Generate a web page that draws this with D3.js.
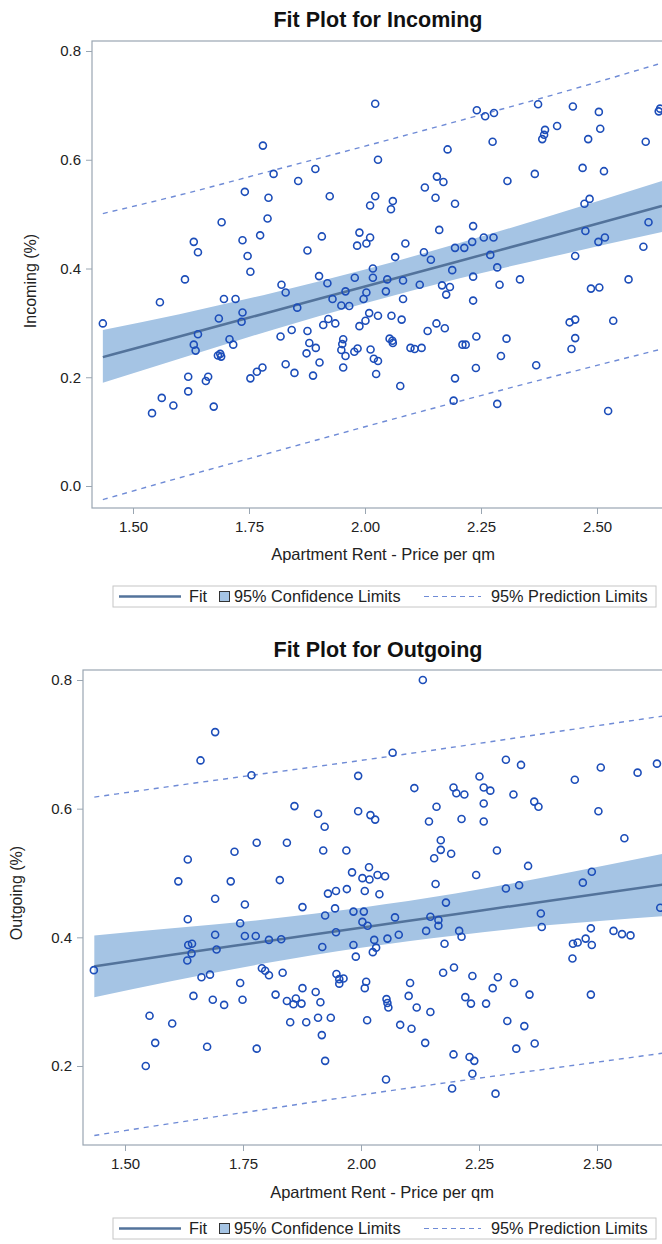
<!DOCTYPE html>
<html>
<head>
<meta charset="utf-8">
<script src="https://cdn.jsdelivr.net/npm/d3@7"></script>
<style>
  body { margin: 0; background: #fff; }
  svg { display: block; font-family: "Liberation Sans", Arial, sans-serif; }
</style>
</head>
<body>
<div id="chart"></div>
<script>
const incomingPts = [
  [2.022,0.703],[1.780,0.626],[2.028,0.600],[1.803,0.574],[1.856,0.561],[1.893,0.583],[1.741,0.541],[1.792,0.530],
  [1.924,0.533],[2.022,0.533],[2.011,0.516],[1.790,0.492],[1.691,0.485],[1.631,0.449],[1.640,0.430],[1.736,0.452],
  [1.774,0.461],[1.747,0.423],[1.753,0.394],[1.876,0.433],[1.907,0.459],[1.988,0.466],[2.011,0.457],[1.983,0.442],
  [2.003,0.446],[2.017,0.400],[2.017,0.383],[1.978,0.383],[1.901,0.386],[1.919,0.373],[1.958,0.358],[2.003,0.356],
  [1.997,0.344],[1.930,0.344],[1.820,0.370],[1.829,0.356],[1.612,0.380],[1.696,0.344],[1.721,0.344],[1.558,0.338],
  [1.435,0.299],[1.685,0.308],[1.736,0.319],[1.734,0.302],[1.640,0.279],[1.631,0.260],[1.635,0.249],[1.683,0.240],
  [1.688,0.243],[1.690,0.238],[1.708,0.270],[1.716,0.260],[1.619,0.201],[1.662,0.201],[1.657,0.193],[1.619,0.174],
  [1.562,0.162],[1.587,0.148],[1.541,0.134],[1.674,0.146],[1.753,0.198],[1.767,0.210],[1.779,0.218],[1.829,0.224],
  [1.848,0.208],[1.888,0.203],[1.902,0.227],[1.874,0.244],[1.880,0.263],[1.894,0.254],[1.818,0.275],[1.842,0.287],
  [1.876,0.285],[1.854,0.328],[1.910,0.296],[1.921,0.307],[1.936,0.299],[1.949,0.332],[1.966,0.331],[2.009,0.318],
  [2.001,0.304],[1.988,0.294],[2.028,0.313],[1.953,0.270],[1.951,0.261],[1.949,0.250],[1.958,0.239],[1.977,0.247],
  [1.984,0.253],[1.953,0.218],[2.012,0.251],[2.019,0.234],[2.028,0.230],[2.024,0.206],
  [2.241,0.691],[2.259,0.680],[2.278,0.686],[2.373,0.702],[2.448,0.698],[2.504,0.688],[2.633,0.689],[2.636,0.694],
  [2.388,0.655],[2.386,0.646],[2.382,0.638],[2.414,0.662],[2.507,0.657],[2.481,0.638],[2.275,0.633],[2.605,0.633],
  [2.178,0.619],[2.307,0.561],[2.366,0.574],[2.469,0.585],[2.515,0.579],[2.155,0.569],[2.169,0.559],[2.129,0.549],
  [2.152,0.530],[2.194,0.519],[2.060,0.524],[2.056,0.509],[2.473,0.519],[2.484,0.528],[2.475,0.469],[2.611,0.485],
  [2.160,0.471],[2.233,0.478],[2.087,0.446],[2.065,0.421],[2.127,0.430],[2.142,0.416],[2.194,0.438],[2.214,0.438],
  [2.231,0.449],[2.256,0.457],[2.277,0.457],[2.270,0.425],[2.503,0.449],[2.517,0.457],[2.600,0.440],[2.453,0.423],
  [2.188,0.397],[2.285,0.402],[2.048,0.380],[2.082,0.378],[2.118,0.370],[2.166,0.369],[2.183,0.366],[2.233,0.385],
  [2.290,0.370],[2.334,0.380],[2.487,0.363],[2.505,0.365],[2.568,0.380],[2.045,0.358],[2.082,0.344],[2.175,0.352],
  [2.233,0.341],
  [2.057,0.313],[2.079,0.306],[2.053,0.271],[2.059,0.267],[2.060,0.263],[2.098,0.254],[2.107,0.252],[2.122,0.254],
  [2.135,0.285],[2.154,0.299],[2.172,0.290],[2.210,0.260],[2.217,0.260],[2.240,0.275],[2.305,0.271],[2.293,0.239],
  [2.239,0.217],[2.369,0.222],[2.194,0.198],[2.191,0.157],[2.285,0.151],[2.076,0.184],[2.441,0.301],[2.453,0.306],
  [2.453,0.272],[2.445,0.252],[2.535,0.304],[2.524,0.138]
];

const outgoingPts = [
  [1.691,0.719],[1.660,0.675],[1.768,0.652],[1.994,0.651],[1.859,0.604],[1.909,0.592],[1.923,0.572],[1.994,0.596],
  [2.020,0.590],[2.030,0.583],[1.779,0.547],[1.843,0.547],[1.732,0.533],[1.633,0.521],[1.920,0.535],[1.969,0.535],
  [1.613,0.487],[1.724,0.487],[1.828,0.489],[1.981,0.501],[2.017,0.509],[2.003,0.492],[2.018,0.490],[2.035,0.497],
  [1.930,0.468],[1.947,0.472],[1.970,0.475],[2.008,0.472],[2.039,0.467],[1.691,0.460],[1.754,0.451],[1.876,0.447],
  [1.945,0.445],[1.924,0.434],[1.984,0.440],[2.006,0.440],[1.633,0.428],[1.744,0.422],[2.003,0.424],[2.014,0.418],
  [1.947,0.408],
  [1.691,0.404],[1.754,0.402],[1.777,0.402],[1.805,0.396],[1.831,0.397],[1.634,0.388],[1.642,0.390],[1.641,0.375],
  [1.632,0.364],[1.694,0.381],[1.918,0.385],[1.984,0.388],[1.989,0.370],[2.028,0.396],[2.032,0.384],[2.025,0.377],
  [1.434,0.349],[1.662,0.338],[1.680,0.342],[1.744,0.329],[1.790,0.352],[1.797,0.348],[1.805,0.341],[1.834,0.345],
  [1.948,0.343],[1.954,0.335],[1.963,0.336],[1.954,0.328],[2.011,0.331],[2.008,0.321],[1.645,0.309],[1.686,0.303],
  [1.710,0.295],[1.749,0.303],[1.819,0.311],[1.843,0.301],[1.857,0.296],[1.862,0.305],[1.874,0.297],[1.876,0.321],
  [1.904,0.315],[1.914,0.299],[1.552,0.278],[1.600,0.266],[1.564,0.236],[1.544,0.200],[1.674,0.230],[1.779,0.227],
  [1.850,0.268],[1.884,0.268],[1.909,0.275],[1.936,0.275],[1.917,0.248],[1.924,0.208],[2.013,0.271],
  [2.131,0.800],[2.067,0.687],[2.307,0.676],[2.339,0.668],[2.508,0.664],[2.586,0.656],[2.627,0.670],[2.453,0.645],
  [2.251,0.650],[2.113,0.632],[2.196,0.633],[2.202,0.624],[2.219,0.622],[2.260,0.633],[2.274,0.628],[2.260,0.608],
  [2.323,0.622],[2.367,0.611],[2.376,0.603],[2.503,0.596],[2.160,0.603],[2.144,0.580],[2.213,0.584],[2.260,0.580],
  [2.558,0.554],[2.169,0.551],[2.169,0.536],[2.155,0.523],[2.191,0.530],[2.288,0.535],[2.354,0.511],[2.051,0.495],
  [2.158,0.483],[2.244,0.497],[2.307,0.476],[2.335,0.481],[2.470,0.485],[2.489,0.502],[2.180,0.454],[2.072,0.431],
  [2.147,0.432],[2.164,0.427],[2.164,0.418],[2.381,0.437],[2.383,0.416],[2.634,0.446],[2.138,0.410],[2.208,0.410],
  [2.213,0.401],[2.487,0.414],[2.535,0.410],[2.553,0.405],[2.571,0.403],
  [2.056,0.398],[2.080,0.404],[2.177,0.390],[2.449,0.390],[2.459,0.392],[2.476,0.398],[2.489,0.388],[2.448,0.367],
  [2.487,0.311],[2.174,0.345],[2.197,0.353],[2.236,0.340],[2.104,0.329],[2.101,0.309],[2.054,0.304],[2.056,0.298],
  [2.058,0.291],[2.118,0.291],[2.147,0.284],[2.083,0.264],[2.107,0.258],[2.136,0.236],[2.221,0.307],[2.233,0.297],
  [2.265,0.297],[2.279,0.321],[2.290,0.338],[2.324,0.329],[2.357,0.311],[2.310,0.270],[2.346,0.262],[2.329,0.227],
  [2.368,0.235],[2.196,0.218],[2.230,0.214],[2.240,0.208],[2.236,0.188],[2.193,0.165],[2.285,0.157],[2.053,0.179]
];

/** Fit, confidence and prediction limits read at a few rents */
const bandX = [1.435, 1.6, 1.8, 2.0, 2.2, 2.4, 2.64];
const incomingFit  = [0.237, 0.275, 0.321, 0.367, 0.413, 0.459, 0.515];
const incomingClLo = [0.190, 0.234, 0.287, 0.336, 0.381, 0.421, 0.467];
const incomingClHi = [0.287, 0.316, 0.355, 0.398, 0.446, 0.497, 0.561];
const incomingPlLo = [-0.025, 0.015, 0.062, 0.109, 0.155, 0.200, 0.252];
const incomingPlHi = [0.501, 0.535, 0.580, 0.625, 0.671, 0.718, 0.778];

const outgoingFit  = [0.355, 0.373, 0.394, 0.415, 0.436, 0.457, 0.482];
const outgoingClLo = [0.307, 0.332, 0.360, 0.384, 0.403, 0.419, 0.433];
const outgoingClHi = [0.403, 0.414, 0.428, 0.446, 0.468, 0.495, 0.530];
const outgoingPlLo = [0.092, 0.111, 0.133, 0.155, 0.176, 0.196, 0.220];
const outgoingPlHi = [0.618, 0.635, 0.655, 0.675, 0.696, 0.718, 0.744];

/** Tick labels */
const xTicks = [1.5, 1.75, 2.0, 2.25, 2.5];
const incomingYTicks = [0.0, 0.2, 0.4, 0.6, 0.8];
const outgoingYTicks = [0.2, 0.4, 0.6, 0.8];

const W = 662, H = 1244;
const bandColor = "#a5c4e4";
const fitColor = "#53739b";
const predColor = "#6f8bd6";
const markerColor = "#1c4db9";
const frameColor = "#9aa6b2";
const textColor = "#222";

const svg = d3.select("#chart")
  .append("svg")
  .attr("width", W)
  .attr("height", H);

function drawPanel(p) {
  const xScale = d3.scaleLinear().domain([1.5, 2.5]).range(p.xRange);
  const yScale = d3.scaleLinear().domain(p.yDomain).range(p.yRange);

  const g = svg.append("g").attr("id", p.id);

  // clip to the plot frame
  g.append("clipPath")
    .attr("id", p.id + "-clip")
    .append("rect")
    .attr("x", p.left).attr("y", p.top)
    .attr("width", p.right - p.left).attr("height", p.bottom - p.top);

  const plot = g.append("g").attr("clip-path", "url(#" + p.id + "-clip)");

  const rows = bandX.map((x, i) => ({
    x: x, fit: p.fit[i], clLo: p.clLo[i], clHi: p.clHi[i], plLo: p.plLo[i], plHi: p.plHi[i]
  }));

  // 95% confidence band
  plot.append("path")
    .datum(rows)
    .attr("fill", bandColor)
    .attr("d", d3.area()
      .curve(d3.curveMonotoneX)
      .x(d => xScale(d.x))
      .y0(d => yScale(d.clLo))
      .y1(d => yScale(d.clHi)));

  // fit line
  plot.append("path")
    .datum(rows)
    .attr("fill", "none")
    .attr("stroke", fitColor)
    .attr("stroke-width", 2.5)
    .attr("d", d3.line().curve(d3.curveMonotoneX).x(d => xScale(d.x)).y(d => yScale(d.fit)));

  // prediction limits
  ["plLo", "plHi"].forEach(k => {
    plot.append("path")
      .datum(rows)
      .attr("fill", "none")
      .attr("stroke", predColor)
      .attr("stroke-width", 1.4)
      .attr("stroke-dasharray", "5,5")
      .attr("d", d3.line().curve(d3.curveMonotoneX).x(d => xScale(d.x)).y(d => yScale(d[k])));
  });

  // observations
  plot.selectAll("circle")
    .data(p.points)
    .enter()
    .append("circle")
    .attr("cx", d => xScale(d[0]))
    .attr("cy", d => yScale(d[1]))
    .attr("r", 3.5)
    .attr("fill", "none")
    .attr("stroke", markerColor)
    .attr("stroke-width", 1.6);

  // frame
  g.append("rect")
    .attr("x", p.left).attr("y", p.top)
    .attr("width", p.right - p.left).attr("height", p.bottom - p.top)
    .attr("fill", "none")
    .attr("stroke", frameColor)
    .attr("stroke-width", 1.2);

  // axes
  const xAxis = g.append("g")
    .attr("transform", "translate(0," + p.bottom + ")")
    .call(d3.axisBottom(xScale).tickValues(xTicks).tickFormat(d3.format(".2f")).tickSize(6).tickPadding(7));
  const yAxis = g.append("g")
    .attr("transform", "translate(" + p.left + ",0)")
    .call(d3.axisLeft(yScale).tickValues(p.yTicks).tickFormat(d3.format(".1f")).tickSize(6).tickPadding(5));

  [xAxis, yAxis].forEach(a => {
    a.select(".domain").remove();
    a.selectAll("line").attr("stroke", frameColor);
    a.selectAll("text")
      .attr("fill", textColor)
      .style("font-size", "15px")
      .style("font-family", "\"Liberation Sans\", Arial, sans-serif");
  });

  // title
  g.append("text")
    .attr("x", p.titleX).attr("y", p.titleY)
    .attr("text-anchor", "middle")
    .attr("fill", "#111")
    .style("font-size", "21.5px")
    .style("font-weight", "bold")
    .text(p.title);

  // x label
  g.append("text")
    .attr("x", p.xLabelX).attr("y", p.xLabelY)
    .attr("text-anchor", "middle")
    .attr("fill", textColor)
    .style("font-size", "16.5px")
    .text("Apartment Rent - Price per qm");

  // y label
  g.append("text")
    .attr("transform", "translate(" + p.yLabelX + "," + p.yLabelY + ") rotate(-90)")
    .attr("text-anchor", "middle")
    .attr("fill", textColor)
    .style("font-size", "16px")
    .text(p.yLabel);

  // legend
  const lg = g.append("g").attr("transform", "translate(0," + p.legendY + ")");
  lg.append("rect")
    .attr("x", 113).attr("y", 0).attr("width", 543).attr("height", 21)
    .attr("fill", "#fff").attr("stroke", "#c6c6c6");
  lg.append("line")
    .attr("x1", 119).attr("x2", 181).attr("y1", 10.5).attr("y2", 10.5)
    .attr("stroke", fitColor).attr("stroke-width", 2.5);
  lg.append("text").attr("x", 189).attr("y", 16).text("Fit");
  lg.append("rect")
    .attr("x", 219.5).attr("y", 5.5).attr("width", 10).attr("height", 10)
    .attr("fill", bandColor).attr("stroke", "#333").attr("stroke-width", 1);
  lg.append("text").attr("x", 234).attr("y", 16).text("95% Confidence Limits");
  lg.append("line")
    .attr("x1", 424).attr("x2", 481).attr("y1", 10.5).attr("y2", 10.5)
    .attr("stroke", predColor).attr("stroke-width", 1.2).attr("stroke-dasharray", "5,4");
  lg.append("text").attr("x", 491).attr("y", 16).text("95% Prediction Limits");
  lg.selectAll("text")
    .attr("fill", textColor)
    .style("font-size", "16.3px");
}

drawPanel({
  id: "incoming",
  points: incomingPts,
  fit: incomingFit, clLo: incomingClLo, clHi: incomingClHi, plLo: incomingPlLo, plHi: incomingPlHi,
  left: 92, top: 41, right: 664, bottom: 508,
  xRange: [133, 597],
  yDomain: [0, 0.8], yRange: [486, 51],
  yTicks: incomingYTicks,
  title: "Fit Plot for Incoming", titleX: 378, titleY: 27,
  xLabelX: 383, xLabelY: 560,
  yLabel: "Incoming (%)", yLabelX: 36, yLabelY: 281,
  legendY: 586
});

drawPanel({
  id: "outgoing",
  points: outgoingPts,
  fit: outgoingFit, clLo: outgoingClLo, clHi: outgoingClHi, plLo: outgoingPlLo, plHi: outgoingPlHi,
  left: 83, top: 670, right: 673, bottom: 1145,
  xRange: [125, 597],
  yDomain: [0.2, 0.8], yRange: [1066, 680],
  yTicks: outgoingYTicks,
  title: "Fit Plot for Outgoing", titleX: 378, titleY: 657,
  xLabelX: 382, xLabelY: 1198,
  yLabel: "Outgoing (%)", yLabelX: 22, yLabelY: 893,
  legendY: 1218
});
</script>
</body>
</html>
